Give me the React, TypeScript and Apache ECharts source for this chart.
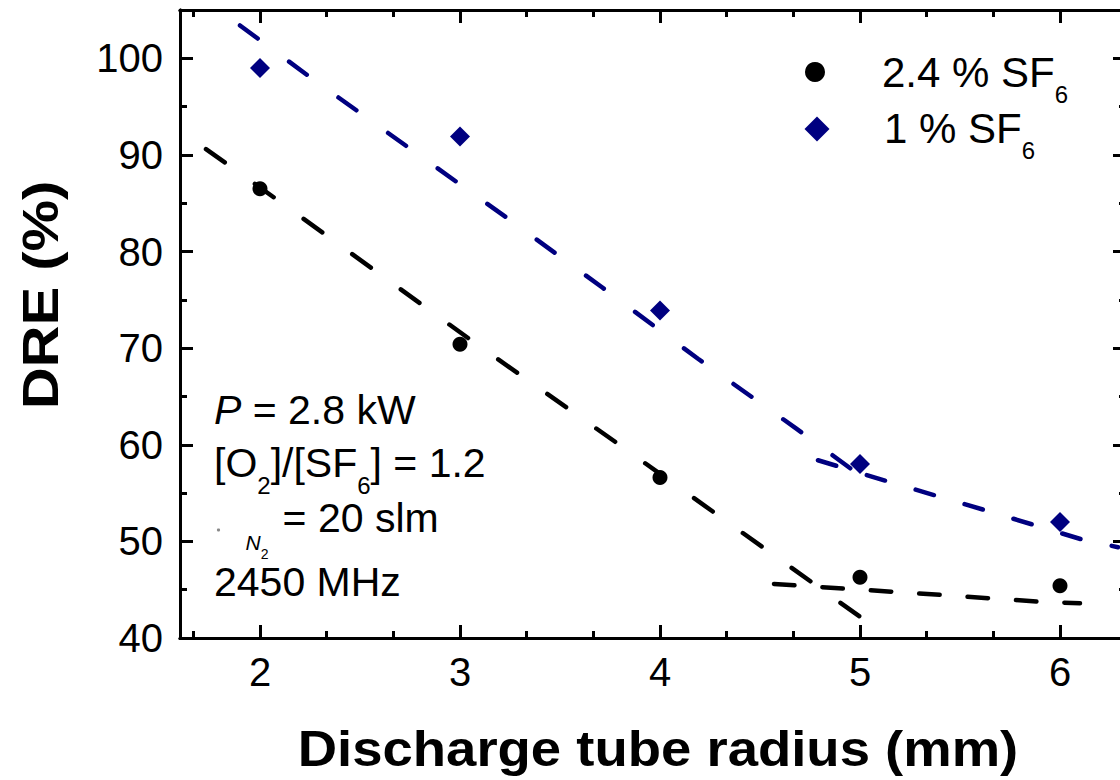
import React, { useEffect, useRef } from 'react';
import * as echarts from 'echarts';

// Measured data (discharge tube radius in mm, DRE in %)
const radius = [2, 3, 4, 5, 6];
const dre24 = [86.5, 70.4, 56.6, 46.3, 45.4];
const dre1 = [99.0, 91.9, 73.9, 58.0, 52.0];

// Dashed guide lines
const fit24aX = [1.73, 2.09, 3.05, 3.79, 4.27, 5.0];
const fit24aY = [90.6, 85.3, 70.9, 60.1, 53.0, 42.2];
const fit24bX = [4.57, 4.93, 5.41, 5.9, 6.1];
const fit24bY = [45.6, 45.1, 44.45, 43.75, 43.6];
const fit1aX = [1.9, 2.26, 2.74, 3.23, 3.71, 4.19, 4.68, 5.1];
const fit1aY = [103.4, 97.9, 90.8, 83.55, 76.3, 68.9, 61.7, 55.3];
const fit1bX = [4.79, 5.14, 5.63, 6.11, 6.29];
const fit1bY = [58.4, 56.2, 53.2, 50.2, 49.4];

// Axis ticks
const xMajor = [2, 3, 4, 5, 6];
const xMinor = [1.6667, 2.3333, 2.6667, 3.3333, 3.6667, 4.3333, 4.6667, 5.3333, 5.6667];
const yMajor = [40, 50, 60, 70, 80, 90, 100];
const yMinor = [45, 55, 65, 75, 85, 95];

const FONT = '"Liberation Sans", Arial, Helvetica, sans-serif';
const NAVY = '#000080';

const pairs = (xs: number[], ys: number[]) => xs.map((x, i) => [x, ys[i]]);

function xAxisDef(gridIndex: number, position: string, ticks: number[], len: number, labels: boolean) {
  return {
    type: 'value', gridIndex, position, min: 1.6, max: 6.33,
    axisLine: { show: true, onZero: false, lineStyle: { color: '#000', width: 3 } },
    axisTick: { show: true, inside: true, length: len, customValues: ticks, lineStyle: { color: '#000', width: 3 } },
    axisLabel: labels
      ? { show: true, customValues: ticks, fontSize: 40, fontFamily: FONT, color: '#000', margin: 14 }
      : { show: false },
    splitLine: { show: false },
  };
}

function yAxisDef(gridIndex: number, position: string, ticks: number[], len: number, labels: boolean) {
  return {
    type: 'value', gridIndex, position, min: 40, max: 105,
    axisLine: { show: true, onZero: false, lineStyle: { color: '#000', width: 3 } },
    axisTick: { show: true, inside: true, length: len, customValues: ticks, lineStyle: { color: '#000', width: 3 } },
    axisLabel: labels
      ? { show: true, customValues: ticks, fontSize: 40, fontFamily: FONT, color: '#000', margin: 17 }
      : { show: false },
    splitLine: { show: false },
  };
}

const mainRich = (fs: number) => ({
  m: { fontSize: fs, lineHeight: fs, fontFamily: FONT, color: '#000', verticalAlign: 'top' },
  i: { fontSize: fs, lineHeight: fs, fontFamily: FONT, fontStyle: 'italic', color: '#000', verticalAlign: 'top' },
  s: { fontSize: 24, lineHeight: 24, fontFamily: FONT, color: '#000', verticalAlign: 'top', padding: [31, 0, 0, 0] },
});

export default function App() {
  const ref = useRef<HTMLDivElement>(null);

  useEffect(() => {
    if (!ref.current) return;
    const chart = echarts.init(ref.current, undefined, { renderer: 'svg' });
    const gridBox = { left: 180, right: 4, top: 10, bottom: 142 };
    const dashLine = (name: string, xs: number[], ys: number[], color: string, dash: number[]) => ({
      name, type: 'line', xAxisIndex: 0, yAxisIndex: 0,
      data: pairs(xs, ys), showSymbol: false, symbol: 'none', smooth: false, silent: true, z: 2,
      lineStyle: { color, width: 4.5, type: dash, cap: 'round', join: 'round' },
    });
    chart.setOption({
      animation: false,
      backgroundColor: '#fff',
      grid: [{ ...gridBox }, { ...gridBox }],
      xAxis: [
        xAxisDef(0, 'bottom', xMajor, 13, true),
        xAxisDef(0, 'top', xMajor, 13, false),
        xAxisDef(1, 'bottom', xMinor, 7, false),
        xAxisDef(1, 'top', xMinor, 7, false),
      ],
      yAxis: [
        yAxisDef(0, 'left', yMajor, 13, true),
        yAxisDef(0, 'right', yMajor, 13, false),
        yAxisDef(1, 'left', yMinor, 7, false),
        yAxisDef(1, 'right', yMinor, 7, false),
      ],
      series: [
        dashLine('fit 2.4 % SF6 (a)', fit24aX, fit24aY, '#000', [23, 37]),
        dashLine('fit 2.4 % SF6 (b)', fit24bX, fit24bY, '#000', [20.5, 28]),
        dashLine('fit 1 % SF6 (a)', fit1aX, fit1aY, NAVY, [22, 39]),
        dashLine('fit 1 % SF6 (b)', fit1bX, fit1bY, NAVY, [19, 32]),
        {
          name: '2.4 % SF6', type: 'scatter', xAxisIndex: 0, yAxisIndex: 0, z: 5,
          symbol: 'circle', symbolSize: 15, data: pairs(radius, dre24),
          itemStyle: { color: '#000', opacity: 1 },
        },
        {
          name: '1 % SF6', type: 'scatter', xAxisIndex: 0, yAxisIndex: 0, z: 5,
          symbol: 'diamond', symbolSize: 20, data: pairs(radius, dre1),
          itemStyle: { color: NAVY, opacity: 1 },
        },
      ],
      graphic: [
        // legend
        { type: 'circle', shape: { cx: 815, cy: 72, r: 10 }, style: { fill: '#000' } },
        { type: 'polygon', shape: { points: [[817, 116.5], [829.5, 129], [817, 141.5], [804.5, 129]] }, style: { fill: NAVY } },
        { type: 'text', x: 882, y: 51.7, style: { text: '{m|2.4 % SF}{s|6}', rich: mainRich(42), verticalAlign: 'top', align: 'left' } },
        { type: 'text', x: 884, y: 107.7, style: { text: '{m|1 % SF}{s|6}', rich: mainRich(42), verticalAlign: 'top', align: 'left' } },
        // annotation
        { type: 'text', x: 214, y: 389.7, style: { text: '{i|P}{m| = 2.8 kW}', rich: mainRich(41), verticalAlign: 'top', align: 'left' } },
        { type: 'text', x: 214, y: 442, style: { text: '{m|[O}{s|2}{m|]/[SF}{s|6}{m|] = 1.2}', rich: mainRich(41), verticalAlign: 'top', align: 'left' } },
        { type: 'circle', shape: { cx: 218.5, cy: 530, r: 1.6 }, style: { fill: '#888' } },
        {
          type: 'text', x: 245.5, y: 532,
          style: {
            text: '{n|N}{t|2}', verticalAlign: 'top', align: 'left',
            rich: {
              n: { fontSize: 21, lineHeight: 21, fontFamily: FONT, fontStyle: 'italic', color: '#000', verticalAlign: 'top' },
              t: { fontSize: 14, lineHeight: 14, fontFamily: FONT, color: '#000', verticalAlign: 'top', padding: [15, 0, 0, 0] },
            },
          },
        },
        { type: 'text', x: 282.6, y: 497, style: { text: '= 20 slm', font: `41px ${FONT}`, fill: '#000', verticalAlign: 'top', align: 'left' } },
        { type: 'text', x: 214, y: 561.4, style: { text: '2450 MHz', font: `41px ${FONT}`, fill: '#000', verticalAlign: 'top', align: 'left' } },
        // axis titles
        { type: 'text', x: 658, y: 749, scaleX: 1.09, style: { text: 'Discharge tube radius (mm)', font: `bold 50px ${FONT}`, fill: '#000', align: 'center', verticalAlign: 'middle' } },
        { type: 'text', x: 40, y: 295, rotation: Math.PI / 2, scaleX: 1.16, style: { text: 'DRE (%)', font: `bold 50px ${FONT}`, fill: '#000', align: 'center', verticalAlign: 'middle' } },
      ],
    });
    return () => chart.dispose();
  }, []);

  return (
    <div style={{ position: 'fixed', left: 0, top: 0, width: 1120, height: 780, overflow: 'hidden', background: '#fff' }}>
      <div ref={ref} style={{ width: 1130, height: 780 }} />
    </div>
  );
}
